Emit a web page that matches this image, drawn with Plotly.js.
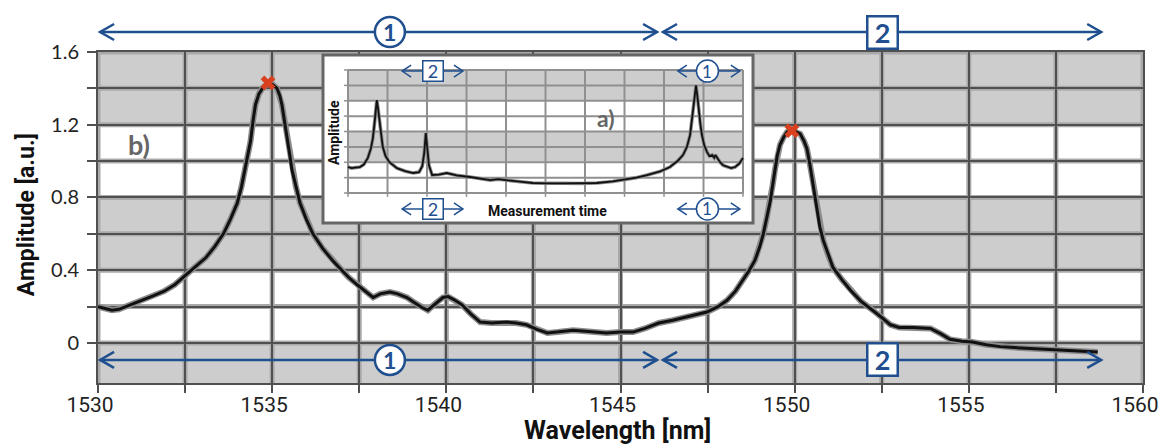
<!DOCTYPE html>
<html>
<head>
<meta charset="utf-8">
<script src="https://cdn.plot.ly/plotly-3.0.1.min.js"></script>
<style>
  html, body { margin: 0; padding: 0; background: #ffffff; }
  #chart { width: 1159px; height: 444px; }
</style>
</head>
<body>
<div id="chart"></div>
<script>
// ---- Spectrum b): amplitude versus wavelength ----
const wavelength = [
  1530.0, 1530.2, 1530.4, 1530.6, 1530.8, 1531.0, 1531.3, 1531.6, 1531.9, 1532.2,
  1532.5, 1532.8, 1533.1, 1533.35, 1533.6, 1533.8, 1534.0, 1534.12, 1534.22, 1534.3,
  1534.38, 1534.45, 1534.52, 1534.62, 1534.72, 1534.88, 1535.02, 1535.14, 1535.22, 1535.28,
  1535.36, 1535.43, 1535.5, 1535.57, 1535.68, 1535.8, 1535.98, 1536.17, 1536.45, 1536.75,
  1537.0, 1537.2, 1537.44, 1537.7, 1537.9, 1538.1, 1538.38, 1538.6, 1538.87, 1539.1,
  1539.3, 1539.47, 1539.7, 1539.9, 1540.05, 1540.25, 1540.45, 1540.7, 1540.97, 1541.3,
  1541.74, 1542.0, 1542.3, 1542.6, 1542.9, 1543.2, 1543.64, 1544.0, 1544.3, 1544.6,
  1545.0, 1545.36, 1545.7, 1546.1, 1546.5, 1547.0, 1547.48, 1547.8, 1548.06, 1548.3,
  1548.52, 1548.7, 1548.86, 1549.0, 1549.1, 1549.2, 1549.3, 1549.37, 1549.44, 1549.5,
  1549.58, 1549.68, 1549.78, 1549.92, 1550.05, 1550.16, 1550.27, 1550.35, 1550.43, 1550.5,
  1550.57, 1550.64, 1550.72, 1550.82, 1550.95, 1551.1, 1551.35, 1551.6, 1551.9, 1552.25,
  1552.5, 1552.75, 1553.0, 1553.4, 1553.9, 1554.2, 1554.46, 1554.8, 1555.1, 1555.5,
  1555.9, 1556.3, 1556.76, 1557.2, 1557.7, 1558.2, 1558.7
];
const amplitude = [
  0.20, 0.19, 0.18, 0.185, 0.20, 0.215, 0.235, 0.26, 0.285, 0.32,
  0.37, 0.42, 0.47, 0.53, 0.60, 0.68, 0.77, 0.86, 0.95, 1.03,
  1.11, 1.22, 1.31, 1.37, 1.40, 1.43, 1.42, 1.40, 1.36, 1.31,
  1.22, 1.13, 1.04, 0.95, 0.86, 0.77, 0.68, 0.60, 0.52, 0.45,
  0.40, 0.36, 0.32, 0.28, 0.25, 0.27, 0.28, 0.27, 0.25, 0.22,
  0.195, 0.18, 0.22, 0.25, 0.255, 0.235, 0.21, 0.16, 0.115, 0.11,
  0.115, 0.11, 0.10, 0.075, 0.055, 0.06, 0.07, 0.065, 0.06, 0.055,
  0.06, 0.06, 0.08, 0.11, 0.125, 0.15, 0.17, 0.20, 0.235, 0.285,
  0.345, 0.40, 0.455, 0.53, 0.60, 0.69, 0.78, 0.87, 0.96, 1.03,
  1.09, 1.13, 1.16, 1.167, 1.16, 1.15, 1.11, 1.07, 0.99, 0.91,
  0.82, 0.73, 0.64, 0.565, 0.49, 0.415, 0.35, 0.29, 0.23, 0.18,
  0.14, 0.10, 0.085, 0.085, 0.08, 0.05, 0.02, 0.01, 0.005, -0.01,
  -0.02, -0.025, -0.03, -0.035, -0.04, -0.045, -0.05
];
const peakWavelength = [1534.88, 1549.92];
const peakAmplitude = [1.43, 1.167];

const xTickVals = [1530, 1535, 1540, 1545, 1550, 1555, 1560];
const xMinorVals = [1532.5, 1537.5, 1542.5, 1547.5, 1552.5, 1557.5];
const yTickVals = [0, 0.4, 0.8, 1.2, 1.6];
const yTickText = ['0', '0.4', '0.8', '1.2', '1.6'];
const yMinorVals = [0.2, 0.6, 1.0, 1.4];
const greyBands = [[-0.22, 0], [0.4, 0.8], [1.2, 1.6]];

// Wavelength ranges of the two resonances (start, end, label position)
const rangeLabels = ['1', '2'];
const rangeStart = [1530.06, 1546.22];
const rangeEnd = [1546.05, 1558.8];
const rangeMid = [1538.38, 1552.51];

// ---- Inset a): amplitude versus measurement time (grid units) ----
const insetTime = [
  0.00, 0.10, 0.20, 0.30, 0.40, 0.50, 0.58, 0.63, 0.67, 0.70,
  0.73, 0.76, 0.79, 0.83, 0.88, 0.95, 1.05, 1.24, 1.45, 1.65,
  1.80, 1.88, 1.93, 1.97, 2.01, 2.05, 2.13, 2.30, 2.50, 2.75,
  3.09, 3.35, 3.60, 3.80, 3.97, 4.30, 4.68, 5.00, 5.44, 5.90,
  6.30, 6.70, 6.96, 7.30, 7.57, 7.90, 8.15, 8.35, 8.48, 8.58,
  8.66, 8.70, 8.73, 8.78, 8.81, 8.84, 8.87, 8.92, 8.96, 9.02,
  9.09, 9.15, 9.22, 9.27, 9.30, 9.36, 9.42, 9.50, 9.60, 9.70,
  9.80, 9.90, 10.00
];
const insetAmplitude = [
  1.69, 1.62, 1.66, 1.69, 1.85, 2.27, 2.9, 3.57, 4.5, 5.3,
  6.04, 5.5, 4.8, 3.9, 3.0, 2.4, 2.0, 1.62, 1.42, 1.30,
  1.36, 1.75, 2.6, 3.9, 2.9, 1.8, 1.17, 1.2, 1.3, 1.15,
  1.04, 0.95, 0.84, 0.9, 0.84, 0.75, 0.65, 0.62, 0.63, 0.62,
  0.65, 0.75, 0.84, 1.0, 1.17, 1.4, 1.69, 2.1, 2.47, 3.0,
  3.77, 4.6, 5.5, 6.5, 7.0, 6.4, 5.5, 4.5, 3.77, 3.1,
  2.66, 2.4, 2.47, 2.3, 2.47, 2.2, 2.0, 1.8, 1.69, 1.62,
  1.69, 1.9, 2.27
];
const insetColumns = [0, 1, 2, 3, 4, 5, 6, 7, 8, 9, 10];
const insetRowLines = [0, 1, 2, 3, 4, 5, 6, 7, 8];
const insetGreyBands = [[2, 4], [6, 8]];
// Inset range markers: label, start, end, centre
const insetLabels = ['2', '1'];
const insetStart = [1.37, 8.35];
const insetEnd = [2.91, 9.92];
const insetMid = [2.15, 9.10];

const BLUE = '#1f4f8f';
const GRID = '#505050';
const FONT = 'Lato, "Open Sans", sans-serif';
const TICKFONT = 'Roboto, "Open Sans", sans-serif';

const shapes = [];
const annotations = [];

// grey bands behind the main grid
greyBands.forEach(([y0, y1]) => shapes.push({
  type: 'rect', xref: 'paper', yref: 'y', x0: 0, x1: 1, y0, y1,
  fillcolor: '#cdcdcd', line: { width: 0 }, layer: 'below'
}));
// soft halo around every grid line
xTickVals.concat(xMinorVals).forEach(v => shapes.push({
  type: 'line', xref: 'x', yref: 'paper', x0: v, x1: v, y0: 0, y1: 1,
  line: { color: '#a9a9a9', width: 5 }, layer: 'below'
}));
yTickVals.concat(yMinorVals).forEach(v => shapes.push({
  type: 'line', xref: 'paper', yref: 'y', x0: 0, x1: 1, y0: v, y1: v,
  line: { color: '#a9a9a9', width: 5 }, layer: 'below'
}));

function chevron(xref, yref, x, y, dir, len, half, w) {
  return {
    type: 'path', xref, yref, xsizemode: 'pixel', ysizemode: 'pixel',
    xanchor: x, yanchor: y,
    path: `M${dir * len},${half} L0,0 L${dir * len},${-half}`,
    line: { color: BLUE, width: w }, layer: 'above'
  };
}

function rangeArrow(xref, yref, x0, x1, y, len, half, w) {
  shapes.push({ type: 'line', xref, yref, x0, x1, y0: y, y1: y,
    line: { color: BLUE, width: w }, layer: 'above' });
  shapes.push(chevron(xref, yref, x0, y, 1, len, half, w));
  shapes.push(chevron(xref, yref, x1, y, -1, len, half, w));
}

function circleLabel(xref, yref, x, y, r, w, text, size) {
  shapes.push({
    type: 'circle', xref, yref, xsizemode: 'pixel', ysizemode: 'pixel',
    xanchor: x, yanchor: y, x0: -r, x1: r, y0: -r, y1: r,
    fillcolor: '#ffffff', line: { color: BLUE, width: w }, layer: 'above'
  });
  annotations.push({ xref, yref, x, y, text, showarrow: false,
    font: { family: FONT, size, color: BLUE }, xanchor: 'center', yanchor: 'middle' });
}

function boxLabel(xref, yref, x, y, wd, ht, w, text, size) {
  annotations.push({ xref, yref, x, y, text, showarrow: false,
    width: wd, height: ht, bgcolor: '#ffffff', bordercolor: BLUE, borderwidth: w, borderpad: 0,
    font: { family: FONT, size, color: BLUE }, xanchor: 'center', yanchor: 'middle' });
}

// main range markers, above and inside the plot
const topY = 1.0604, bottomY = -0.093;
rangeLabels.forEach((lab, i) => {
  rangeArrow('x', 'paper', rangeStart[i], rangeEnd[i], topY, 14, 8, 2.5);
  rangeArrow('x', 'y', rangeStart[i], rangeEnd[i], bottomY, 14, 8, 2.5);
});
circleLabel('x', 'paper', rangeMid[0], topY, 15, 2.5, '<b>' + rangeLabels[0] + '</b>', 23);
circleLabel('x', 'y', rangeMid[0], bottomY, 15, 2.5, '<b>' + rangeLabels[0] + '</b>', 23);
boxLabel('x', 'paper', rangeMid[1], topY, 28, 30, 2.5, '<b>' + rangeLabels[1] + '</b>', 27);
boxLabel('x', 'y', rangeMid[1], bottomY, 28, 30, 2.5, '<b>' + rangeLabels[1] + '</b>', 27);

// inset: bands, grid and small ticks
insetGreyBands.forEach(([y0, y1]) => shapes.push({
  type: 'rect', xref: 'x2', yref: 'y2', x0: 0, x1: 10, y0, y1,
  fillcolor: '#cdcdcd', line: { width: 0 }, layer: 'below'
}));
insetColumns.forEach(v => {
  shapes.push({ type: 'line', xref: 'x2', yref: 'y2', x0: v, x1: v, y0: 0, y1: 8,
    line: { color: '#909090', width: 2 }, layer: 'below' });
  shapes.push({ type: 'line', xref: 'x2', yref: 'y2', x0: v, x1: v, y0: 0, y1: -0.25,
    line: { color: '#909090', width: 1.5 }, layer: 'below' });
});
insetRowLines.forEach(v => {
  shapes.push({ type: 'line', xref: 'x2', yref: 'y2', x0: 0, x1: 10, y0: v, y1: v,
    line: { color: '#909090', width: 2 }, layer: 'below' });
  shapes.push({ type: 'line', xref: 'x2', yref: 'y2', x0: -0.1, x1: 0, y0: v, y1: v,
    line: { color: '#909090', width: 1.5 }, layer: 'below' });
});
// inset frame
shapes.push({ type: 'rect', xref: 'x2 domain', yref: 'y2 domain', x0: 0, x1: 1, y0: 0, y1: 1,
  line: { color: '#666666', width: 3 }, fillcolor: 'rgba(0,0,0,0)', layer: 'above' });

// inset range markers
const insetTopY = 7.93, insetBottomY = -1.04;
insetLabels.forEach((lab, i) => {
  rangeArrow('x2', 'y2', insetStart[i], insetEnd[i], insetTopY, 9, 6, 1.5);
  rangeArrow('x2', 'y2', insetStart[i], insetEnd[i], insetBottomY, 9, 6, 1.5);
});
boxLabel('x2', 'y2', insetMid[0], insetTopY, 19, 19, 1.5, insetLabels[0], 18);
boxLabel('x2', 'y2', insetMid[0], insetBottomY, 19, 19, 1.5, insetLabels[0], 18);
circleLabel('x2', 'y2', insetMid[1], insetTopY, 11, 1.5, insetLabels[1], 17);
circleLabel('x2', 'y2', insetMid[1], insetBottomY, 11, 1.5, insetLabels[1], 17);

// panel letters and inset axis titles
annotations.push({ xref: 'x', yref: 'y', x: 1531.18, y: 1.09, text: '<b>b)</b>', showarrow: false,
  font: { family: FONT, size: 27, color: '#666666' } });
annotations.push({ xref: 'x2', yref: 'y2', x: 6.53, y: 4.88, text: '<b>a)</b>', showarrow: false,
  font: { family: FONT, size: 23, color: '#666666' } });
annotations.push({ xref: 'x2', yref: 'y2', x: -0.354, y: 3.9, text: '<b>Amplitude</b>', showarrow: false,
  textangle: -90, font: { family: TICKFONT, size: 14, color: '#111111' } });
annotations.push({ xref: 'x2', yref: 'y2', x: 5.04, y: -1.17, text: '<b>Measurement time</b>', showarrow: false,
  font: { family: TICKFONT, size: 14, color: '#111111' } });

// axis titles
annotations.push({ xref: 'paper', yref: 'paper', x: 0.4976, y: -0.143, text: '<b>Wavelength [nm]</b>',
  showarrow: false, xanchor: 'center', yanchor: 'middle', font: { family: TICKFONT, size: 25, color: '#111111' } });
annotations.push({ xref: 'paper', yref: 'paper', x: -0.0689, y: 0.51, text: '<b>Amplitude [a.u.]</b>',
  showarrow: false, textangle: -90, xanchor: 'center', yanchor: 'middle',
  font: { family: TICKFONT, size: 23, color: '#111111' } });

const traces = [
  { x: wavelength, y: amplitude, type: 'scatter', mode: 'lines', xaxis: 'x', yaxis: 'y',
    line: { color: '#8c8c8c', width: 6 }, hoverinfo: 'skip' },
  { x: wavelength, y: amplitude, type: 'scatter', mode: 'lines', xaxis: 'x', yaxis: 'y',
    line: { color: '#111111', width: 3 } },
  { x: peakWavelength, y: peakAmplitude, type: 'scatter', mode: 'markers', xaxis: 'x', yaxis: 'y',
    marker: { symbol: 'x', size: 13, color: '#d8401f', line: { width: 0 } } },
  { x: insetTime, y: insetAmplitude, type: 'scatter', mode: 'lines', xaxis: 'x2', yaxis: 'y2',
    line: { color: '#8c8c8c', width: 3.6 }, hoverinfo: 'skip' },
  { x: insetTime, y: insetAmplitude, type: 'scatter', mode: 'lines', xaxis: 'x2', yaxis: 'y2',
    line: { color: '#111111', width: 1.8 } }
];

const layout = {
  width: 1159, height: 444,
  margin: { l: 98, r: 16, t: 52, b: 61 },
  paper_bgcolor: '#ffffff', plot_bgcolor: '#ffffff',
  showlegend: false,
  xaxis: {
    range: [1530, 1560], tickmode: 'array', tickvals: xTickVals,
    ticks: 'outside', ticklen: 8, tickwidth: 2, tickcolor: GRID,
    showgrid: true, gridcolor: GRID, gridwidth: 2,
    minor: { tickmode: 'array', tickvals: xMinorVals, ticks: 'outside', ticklen: 8, tickwidth: 2,
      tickcolor: GRID, showgrid: true, gridcolor: GRID, gridwidth: 2 },
    showline: true, mirror: true, linecolor: GRID, linewidth: 2,
    zeroline: false, ticklabelshift: -8, ticklabelstandoff: -6, ticklabeloverflow: 'allow',
    tickfont: { family: TICKFONT, size: 21, color: '#222222' }
  },
  yaxis: {
    range: [-0.22, 1.6], tickmode: 'array', tickvals: yTickVals, ticktext: yTickText,
    ticks: 'outside', ticklen: 9, tickwidth: 2, tickcolor: GRID,
    showgrid: true, gridcolor: GRID, gridwidth: 2,
    minor: { tickmode: 'array', tickvals: yMinorVals, ticks: 'outside', ticklen: 9, tickwidth: 2,
      tickcolor: GRID, showgrid: true, gridcolor: GRID, gridwidth: 2 },
    showline: true, mirror: true, linecolor: GRID, linewidth: 2,
    zeroline: false, ticklabelstandoff: 4,
    tickfont: { family: FONT, size: 20, color: '#222222' }
  },
  xaxis2: { domain: [0.2153, 0.6268], range: [-0.633, 10.253], anchor: 'y2', visible: false, fixedrange: true },
  yaxis2: { domain: [0.4834, 0.9909], range: [-1.951, 8.976], anchor: 'x2', visible: false, fixedrange: true },
  shapes, annotations
};

Plotly.newPlot('chart', traces, layout, { displayModeBar: false, staticPlot: true });
</script>
</body>
</html>
